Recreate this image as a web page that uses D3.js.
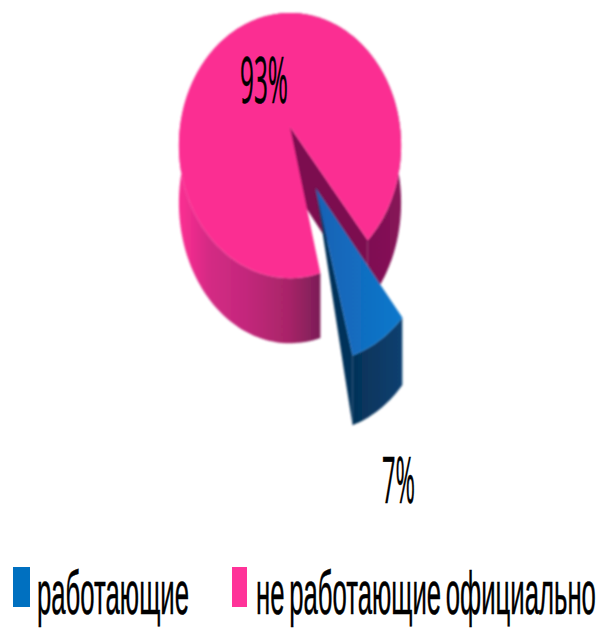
<!DOCTYPE html>
<html>
<head>
<meta charset="utf-8">
<script src="https://cdn.jsdelivr.net/npm/d3@7/dist/d3.min.js"></script>
<style>
  html, body { margin: 0; padding: 0; background: #fff; }
  svg { display: block; }
  text { font-family: "Open Sans", sans-serif; fill: #000; stroke: #000; stroke-width: 0.5; }
  text.legend { font-family: "Liberation Sans", sans-serif; }
</style>
</head>
<body>
<script>
const categories = ["работающие", "не работающие официально"];
const values = [7, 93];
const valueLabels = ["7%", "93%"];
const colors = ["#0070c0", "#ff3399"];

const width = 601;
const height = 628;

// the pie is a flat disc seen in perspective
const cx = 290, cy = 127;
const rx = 110, ry = 130, persp = 0.14;
const depth = 56;
const explode = 0.49;

function project(u, v) {
  const w = 1 - persp * v;
  return [cx + rx * u / w, cy + ry * v / w];
}
function drop(p, v) {
  return [p[0], p[1] + depth / (1 - persp * v)];
}

const svg = d3.select("body").append("svg")
  .attr("width", width)
  .attr("height", height);

const defs = svg.append("defs");
defs.append("filter").attr("id", "soft")
  .attr("x", "-5%").attr("y", "-5%").attr("width", "110%").attr("height", "110%")
  .append("feGaussianBlur").attr("stdDeviation", 0.8);

const wallGrad = defs.append("linearGradient").attr("id", "pinkWall")
  .attr("gradientUnits", "userSpaceOnUse")
  .attr("x1", 178).attr("x2", 400).attr("y1", 0).attr("y2", 0);
[[0, "#fb2f92"], [0.05, "#f02d8e"], [0.14, "#d42a84"], [0.3, "#c4287c"], [0.5, "#a82468"], [0.63, "#7e1e58"], [0.66, "#741048"], [1, "#861258"]]
  .forEach(s => wallGrad.append("stop").attr("offset", s[0]).attr("stop-color", s[1]));

const topGrad = defs.append("linearGradient").attr("id", "blueTop")
  .attr("x1", 0).attr("x2", 1).attr("y1", 0).attr("y2", 0);
[[0, "#1a62b4"], [1, "#0a78cc"]]
  .forEach(s => topGrad.append("stop").attr("offset", s[0]).attr("stop-color", s[1]));

const sideGrad = defs.append("linearGradient").attr("id", "blueSide")
  .attr("x1", 0).attr("x2", 1).attr("y1", 0).attr("y2", 0);
[[0, "#063258"], [1, "#0a4070"]]
  .forEach(s => sideGrad.append("stop").attr("offset", s[0]).attr("stop-color", s[1]));

const pie = d3.pie().sort(null)
  .startAngle(141 * Math.PI / 180)
  .endAngle((141 + 360) * Math.PI / 180);
const slices = pie(values);

const line = d3.line();

function rimPoints(d, du, dv) {
  const n = Math.max(8, Math.round((d.endAngle - d.startAngle) * 40));
  return d3.range(n + 1).map(i => {
    const a = d.startAngle + (d.endAngle - d.startAngle) * i / n;
    const u = Math.sin(a) + du, v = -Math.cos(a) + dv;
    return { p: project(u, v), v: v };
  });
}

const chart = svg.append("g").attr("filter", "url(#soft)");

// pink slice
const pink = slices[1];
const pinkRim = rimPoints(pink, 0, 0);
const pinkApex = project(0, 0);

chart.append("path")
  .attr("d", line(pinkRim.map(r => r.p).concat(pinkRim.slice().reverse().map(r => drop(r.p, r.v)))) + "Z")
  .attr("fill", "url(#pinkWall)");

const pinkCut = pinkRim[pinkRim.length - 1];
chart.append("path")
  .attr("d", line([pinkApex, pinkCut.p, drop(pinkCut.p, pinkCut.v), drop(pinkApex, 0)]) + "Z")
  .attr("fill", "#7c1050");

chart.append("path")
  .attr("d", line([pinkApex].concat(pinkRim.map(r => r.p))) + "Z")
  .attr("fill", "#fb2f92");

// blue slice pulled out along its middle angle
const blue = slices[0];
const mid = (blue.startAngle + blue.endAngle) / 2;
const du = Math.sin(mid) * explode, dv = -Math.cos(mid) * explode;
const blueRim = rimPoints(blue, du, dv);
const blueApex = project(du, dv);
const blueEnd = blueRim[blueRim.length - 1];

chart.append("path")
  .attr("d", line(blueRim.map(r => r.p).concat(blueRim.slice().reverse().map(r => drop(r.p, r.v)))) + "Z")
  .attr("fill", "url(#blueSide)");

chart.append("path")
  .attr("d", line([blueApex, blueEnd.p, drop(blueEnd.p, blueEnd.v)]) + "Z")
  .attr("fill", "#06315a");

chart.append("path")
  .attr("d", line([blueApex].concat(blueRim.map(r => r.p))) + "Z")
  .attr("fill", "url(#blueTop)");

// squeeze a text sideways to the width it has in the original
function squeeze(sel, pos) {
  sel.each(function (d, i) {
    const natural = this.getComputedTextLength();
    d3.select(this).attr("transform",
      `translate(${pos[i].x},${pos[i].y}) scale(${pos[i].w / natural},1)`);
  });
}

// value labels
const labelPos = [{ x: 382, y: 503, w: 33 }, { x: 240, y: 103, w: 48 }];
svg.selectAll("text.value")
  .data(valueLabels)
  .enter().append("text")
  .attr("class", "value")
  .attr("font-size", 64)
  .text(d => d)
  .call(squeeze, labelPos);

// legend
const swatchPos = [{ x: 13, w: 17 }, { x: 232, w: 15 }];
const legendPos = [{ x: 37, y: 614, w: 152 }, { x: 256, y: 614, w: 340 }];
svg.selectAll("rect.legend")
  .data(categories)
  .enter().append("rect")
  .attr("class", "legend")
  .attr("x", (d, i) => swatchPos[i].x)
  .attr("y", 567)
  .attr("width", (d, i) => swatchPos[i].w)
  .attr("height", 40)
  .attr("fill", (d, i) => colors[i]);
svg.selectAll("text.legend")
  .data(categories)
  .enter().append("text")
  .attr("class", "legend")
  .attr("font-size", 62)
  .attr("word-spacing", -6)
  .text(d => d)
  .call(squeeze, legendPos);
</script>
</body>
</html>
